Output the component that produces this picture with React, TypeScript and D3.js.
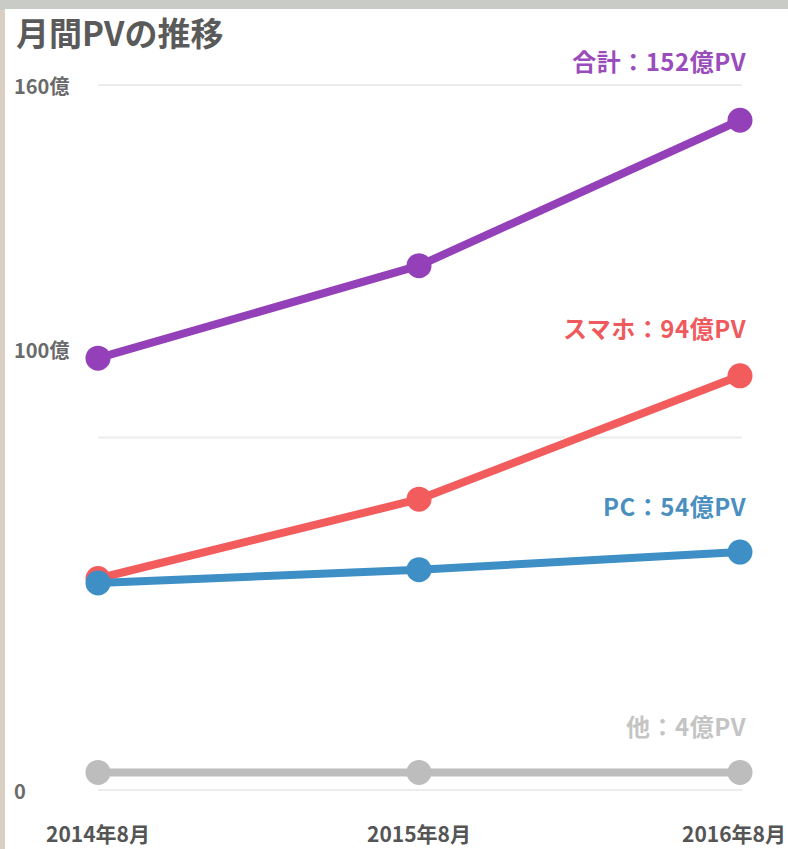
import React from "react";
import * as d3 from "d3";

const W = 788;
const H = 849;

const categories = ["2014年8月", "2015年8月", "2016年8月"];
const totalValues = [98, 119, 152];
const smartphoneValues = [48, 66, 94];
const pcValues = [47, 50, 54];
const otherValues = [4, 4, 4];
const gridValues = [0, 80, 160];
const tickValues = [0, 100, 160];
const tickLabels = ["0", "100億", "160億"];

const seriesNames = ["合計：152億PV", "スマホ：94億PV", "PC：54億PV", "他：4億PV"];
const seriesColors = ["#9440b8", "#f25c5c", "#3d8fc6", "#bdbdbd"];
const seriesLabelColors = ["#9a4cbc", "#ee5a5e", "#4a8fbf", "#c4c4c4"];
const seriesLabelY = [63, 330, 508, 728];

const FONT = "'Noto Sans CJK JP', 'Noto Sans', sans-serif";

export default function App() {
  const x = d3.scalePoint<string>().domain(categories).range([98, 740]);
  const y = d3.scaleLinear().domain([0, 160]).range([790, 85]);
  const series = [totalValues, smartphoneValues, pcValues, otherValues];
  const line = d3
    .line<number>()
    .x((_, i) => x(categories[i]) as number)
    .y((d) => y(d));

  const order = [3, 1, 2, 0];

  return (
    <svg
      width={W}
      height={H}
      style={{ position: "absolute", left: 0, top: 0, display: "block" }}
      fontFamily={FONT}
    >
      <rect x={0} y={0} width={W} height={H} fill="#d9cfc2" />
      <rect x={0} y={0} width={W} height={10} fill="#c9ccc6" />
      <rect x={5} y={9} width={W - 5} height={H - 9} fill="#ffffff" />

      <text x={16} y={46} fontSize={33} fontWeight={700} fill="#5a5a5a">
        月間PVの推移
      </text>

      {gridValues.map((v) => (
        <line
          key={v}
          x1={98}
          x2={742}
          y1={y(v)}
          y2={y(v)}
          stroke="#ececec"
          strokeWidth={2}
        />
      ))}

      {tickValues.map((v, i) => (
        <text
          key={v}
          x={14}
          y={y(v) + 2}
          dy="0.35em"
          fontSize={20}
          fontWeight={700}
          fill="#6a6a6a"
        >
          {tickLabels[i]}
        </text>
      ))}

      {categories.map((c, i) => {
        const last = i === categories.length - 1;
        return (
          <text
            key={c}
            x={last ? W - 2 : x(c)}
            y={842}
            textAnchor={last ? "end" : "middle"}
            fontSize={21}
            fontWeight={700}
            fill="#555"
          >
            {c}
          </text>
        );
      })}

      {order.map((si) => (
        <g key={si}>
          <path
            d={line(series[si]) || ""}
            fill="none"
            stroke={seriesColors[si]}
            strokeWidth={8}
            strokeLinejoin="round"
            strokeLinecap="round"
          />
          {series[si].map((v, i) => (
            <circle
              key={i}
              cx={x(categories[i])}
              cy={y(v)}
              r={12.5}
              fill={seriesColors[si]}
            />
          ))}
        </g>
      ))}

      {seriesNames.map((n, i) => (
        <text
          key={n}
          x={746}
          y={seriesLabelY[i]}
          dy="0.35em"
          textAnchor="end"
          fontSize={24}
          letterSpacing={0.5}
          fontWeight={700}
          fill={seriesLabelColors[i]}
        >
          {n}
        </text>
      ))}
    </svg>
  );
}
